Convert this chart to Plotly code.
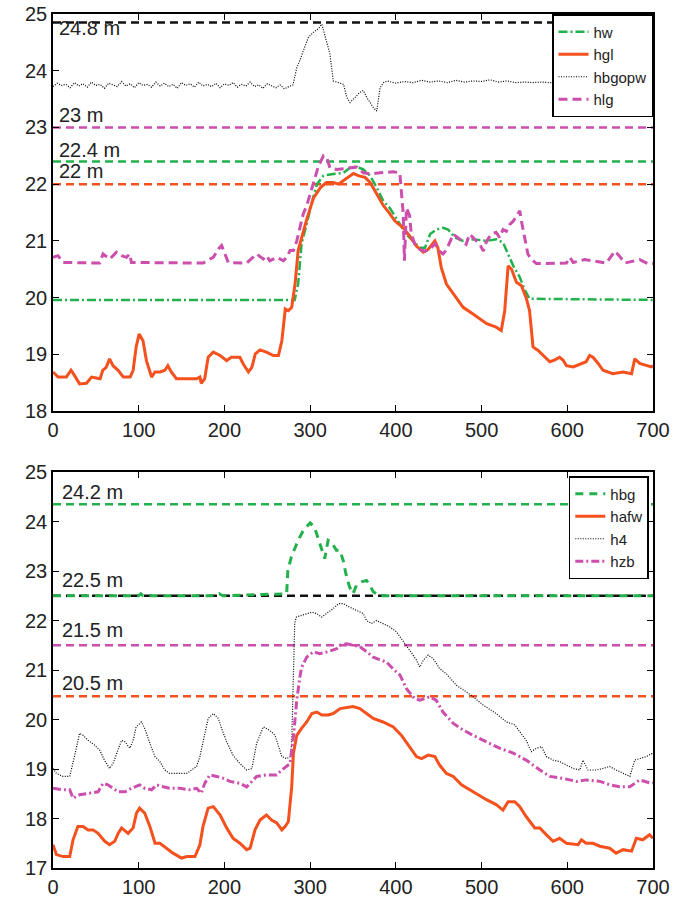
import plotly.graph_objects as go

# ---------------- TOP PANEL DATA ----------------
hgl_x = [0, 6, 15.6, 21, 25, 31, 39, 45, 55, 58, 62, 66, 70, 76, 82, 90, 93.5, 97, 100.5, 105, 109, 115, 119, 125, 130.5, 134, 138, 144, 156, 167.5, 171.4, 173, 177, 181, 187, 195, 202.6, 208, 218, 222, 228, 232, 236, 241.5, 249, 257, 263, 267, 271, 274.6, 278.5, 282.4, 286, 292, 296, 304, 312, 319, 327, 333, 339, 346.6, 350.5, 356, 364, 370, 377.7, 385.5, 392, 399, 408.5, 416, 424, 432, 437.7, 445.5, 449, 453, 459, 469, 478.5, 490, 506, 517, 523, 527, 531, 535, 540.7, 546.5, 552, 556, 560, 566, 573.7, 579.6, 585, 591, 595, 599, 607, 618, 622, 626, 630, 636, 641.7, 653, 665, 675, 678.7, 684.5, 692, 698, 700]
hgl_y = [18.69, 18.6, 18.6, 18.72, 18.63, 18.48, 18.49, 18.6, 18.57, 18.72, 18.77, 18.92, 18.8, 18.72, 18.6, 18.6, 18.72, 19.13, 19.36, 19.24, 18.89, 18.6, 18.69, 18.69, 18.72, 18.8, 18.69, 18.57, 18.57, 18.57, 18.6, 18.49, 18.57, 18.95, 19.04, 18.98, 18.89, 18.95, 18.95, 18.83, 18.69, 18.77, 19.01, 19.08, 19.04, 18.98, 18.98, 19.24, 19.8, 19.77, 19.83, 20.24, 20.83, 21.18, 21.38, 21.76, 21.94, 22.03, 22.03, 22.0, 22.06, 22.15, 22.19, 22.15, 22.12, 22.03, 21.82, 21.62, 21.5, 21.35, 21.23, 21.09, 20.91, 20.8, 20.85, 21.0, 20.88, 20.53, 20.24, 20.04, 19.83, 19.71, 19.54, 19.48, 19.42, 19.77, 20.56, 20.5, 20.27, 20.21, 20.0, 19.77, 19.13, 19.07, 18.95, 18.87, 18.9, 18.95, 18.9, 18.8, 18.78, 18.84, 18.87, 18.98, 18.95, 18.84, 18.72, 18.66, 18.69, 18.66, 18.92, 18.84, 18.81, 18.78, 18.8]

hw_x = [0, 282, 286, 288, 290, 296, 302, 308, 315.5, 327, 339, 346.6, 354, 362, 370, 377.7, 385.5, 393, 404.7, 412, 420, 428, 434, 440, 447, 455, 461, 469, 478.5, 490, 506, 517, 525, 531, 537, 544.6, 550, 556, 700]
hw_y = [19.96, 19.96, 20.24, 20.6, 20.95, 21.3, 21.68, 22.0, 22.15, 22.18, 22.2, 22.29, 22.31, 22.26, 22.15, 21.94, 21.7, 21.58, 21.29, 21.12, 21.0, 20.88, 20.88, 21.12, 21.2, 21.23, 21.2, 21.06, 21.0, 21.03, 21.0, 21.03, 20.97, 20.77, 20.56, 20.36, 20.15, 19.98, 19.96]

hlg_x = [0, 5.8, 11.7, 54.5, 58.4, 62.3, 66.2, 74, 80, 85.7, 89.6, 91.5, 175.3, 179, 187, 193, 196.7, 200.6, 204.5, 226, 230, 237.6, 245.4, 249, 253, 261, 268.8, 272.7, 276.6, 280.5, 284.4, 288, 292, 296, 302, 309.7, 315.5, 319.4, 323, 331, 342.7, 354.4, 362, 370, 381.6, 397, 404.6, 406, 408.5, 410, 411.5, 412.4, 416, 418, 422, 428, 434, 439.6, 445.5, 451, 455, 459, 467, 472.7, 478.5, 482, 486, 490, 494, 498, 502, 506, 511.5, 517, 521, 525, 529, 533, 537, 540.7, 544.6, 546.5, 550, 554, 558, 564, 599, 603, 607, 620, 645.6, 655.5, 661, 667, 684.5, 688, 694, 700]
hlg_y = [20.71, 20.74, 20.62, 20.61, 20.77, 20.72, 20.68, 20.8, 20.74, 20.71, 20.77, 20.62, 20.61, 20.65, 20.71, 20.86, 20.92, 20.77, 20.62, 20.61, 20.67, 20.77, 20.68, 20.74, 20.65, 20.71, 20.65, 20.71, 20.83, 20.83, 21.0, 21.24, 21.48, 21.62, 21.94, 22.32, 22.5, 22.47, 22.29, 22.26, 22.28, 22.3, 22.2, 22.18, 22.2, 22.22, 22.2, 21.9, 21.5, 20.65, 21.4, 21.58, 21.45, 21.12, 20.95, 20.85, 20.82, 20.85, 20.95, 20.82, 20.77, 20.84, 21.12, 21.05, 20.97, 20.94, 21.12, 21.06, 21.0, 20.94, 20.82, 21.0, 21.12, 21.15, 21.06, 21.2, 21.17, 21.29, 21.35, 21.44, 21.53, 21.35, 21.06, 20.77, 20.68, 20.6, 20.61, 20.71, 20.62, 20.67, 20.61, 20.82, 20.73, 20.61, 20.67, 20.64, 20.6, 20.6]

hbgopw_x = [0, 5, 10, 15, 20, 25, 30, 35, 40, 45, 50, 55, 60, 65, 70, 75, 80, 85, 90, 95, 100, 105, 110, 115, 120, 125, 130, 135, 140, 145, 150, 155, 160, 165, 170, 175, 180, 185, 190, 195, 200, 205, 210, 215, 220, 225, 230, 235, 240, 245, 250, 255, 260, 265, 270, 275, 280, 284.5, 288, 292, 298, 304, 309.7, 313.6, 317.5, 323, 327, 333, 339, 342.7, 346.6, 352.5, 358, 362, 366, 373.8, 377.7, 381.6, 385.5, 390, 400, 410, 420, 430, 440, 450, 460, 470, 480, 490, 500, 510, 520, 530, 540, 550, 560, 570, 580, 600, 620, 640, 660, 680, 700]
hbgopw_y = [23.72, 23.78, 23.74, 23.76, 23.70, 23.79, 23.73, 23.77, 23.71, 23.80, 23.74, 23.76, 23.69, 23.78, 23.75, 23.72, 23.81, 23.73, 23.77, 23.70, 23.79, 23.74, 23.76, 23.71, 23.80, 23.73, 23.78, 23.72, 23.76, 23.69, 23.79, 23.74, 23.77, 23.71, 23.80, 23.73, 23.76, 23.72, 23.78, 23.70, 23.77, 23.74, 23.79, 23.71, 23.76, 23.73, 23.80, 23.72, 23.75, 23.69, 23.77, 23.73, 23.70, 23.75, 23.68, 23.72, 23.75, 24.06, 24.18, 24.35, 24.59, 24.68, 24.74, 24.82, 24.59, 24.3, 23.82, 23.79, 23.76, 23.53, 23.44, 23.53, 23.62, 23.65, 23.53, 23.35, 23.29, 23.7, 23.79, 23.82, 23.78, 23.81, 23.79, 23.83, 23.80, 23.82, 23.79, 23.83, 23.80, 23.82, 23.81, 23.84, 23.80, 23.82, 23.79, 23.80, 23.79, 23.80, 23.79, 23.80, 23.79, 23.80, 23.79, 23.80, 23.79]

top_ref_vals = [24.85, 23.0, 22.4, 22.0]
top_ref_labels = ["24.8 m", "23 m", "22.4 m", "22 m"]
top_ref_label_y = [24.75, 23.22, 22.6, 22.23]

# ---------------- BOTTOM PANEL DATA ----------------
hbg_x = [0, 100, 102.5, 105, 190, 194, 198, 272.6, 274, 278, 282, 286, 292, 300, 305, 309, 313, 317, 321, 325, 330.6, 334.7, 338.6, 342.5, 346, 350, 354, 360, 365.8, 369.7, 373.6, 381, 700]
hbg_y = [22.5, 22.5, 22.54, 22.5, 22.5, 22.54, 22.5, 22.54, 23.01, 23.28, 23.45, 23.62, 23.82, 23.97, 23.89, 23.68, 23.48, 23.25, 23.62, 23.58, 23.42, 23.42, 23.21, 22.88, 22.68, 22.54, 22.71, 22.78, 22.81, 22.71, 22.58, 22.5, 22.5]

hafw_x = [0, 4, 11.7, 19.5, 23.4, 29, 35, 41, 46.7, 52.6, 60.4, 66, 72, 76, 80, 87.6, 93.5, 97.4, 101, 107, 113, 119, 124.7, 132.5, 140, 150, 156, 165.6, 171.4, 175, 181, 187, 195, 202.6, 210, 218, 226, 230, 235.7, 241.5, 249, 255, 261, 267, 271, 274.6, 278.5, 280.5, 284.4, 290, 296, 302, 307.7, 313.6, 321, 327, 335, 350, 358, 365.8, 373.6, 385, 397, 406.6, 416, 424, 430, 437.7, 445.5, 451, 459, 467, 476.6, 490, 505.7, 517, 525, 531, 538.7, 544.6, 552, 562, 568, 575.7, 583.4, 591, 599, 612.6, 616.5, 622, 630, 638, 649.5, 657, 665, 675, 680.6, 688, 696, 700]
hafw_y = [17.47, 17.27, 17.23, 17.23, 17.57, 17.84, 17.84, 17.77, 17.77, 17.7, 17.54, 17.47, 17.54, 17.7, 17.81, 17.7, 17.81, 18.11, 18.21, 18.11, 17.84, 17.5, 17.5, 17.4, 17.3, 17.2, 17.23, 17.23, 17.47, 17.84, 18.21, 18.24, 18.07, 17.81, 17.6, 17.5, 17.37, 17.4, 17.77, 17.97, 18.07, 17.97, 17.91, 17.77, 17.84, 17.94, 18.64, 19.32, 19.68, 19.82, 19.95, 20.12, 20.15, 20.09, 20.09, 20.12, 20.22, 20.26, 20.22, 20.12, 20.02, 19.95, 19.85, 19.68, 19.45, 19.25, 19.21, 19.28, 19.25, 19.08, 18.91, 18.85, 18.68, 18.54, 18.38, 18.28, 18.17, 18.34, 18.34, 18.24, 18.04, 17.81, 17.81, 17.67, 17.54, 17.6, 17.5, 17.47, 17.57, 17.5, 17.5, 17.44, 17.4, 17.3, 17.37, 17.34, 17.6, 17.57, 17.67, 17.6]

h4_x = [0, 4, 11.7, 19.5, 25, 31, 35, 41, 48.7, 54.5, 60, 66, 70, 76, 80, 84, 89.6, 93.5, 97, 103, 107, 113, 119, 124.7, 130.5, 136, 148, 156, 161.7, 167.5, 171.4, 177, 181, 187, 193, 196.7, 202.6, 210, 218, 226, 232, 237.6, 245.4, 249, 255, 259, 263, 267, 272.7, 276.6, 278.5, 279.5, 280.5, 282, 284, 290, 296, 302, 307.5, 313.5, 319, 327, 333, 338.6, 346, 354, 362, 365.8, 371.6, 377.5, 385, 393, 400.8, 408.5, 416, 424, 428, 432, 437.7, 443.5, 451, 459, 470.7, 482, 490, 502, 517, 529, 539, 544.6, 552, 558, 564, 570, 575.7, 583.4, 591, 599, 607, 614.5, 618.4, 624, 634, 641.7, 649.5, 657, 665, 673, 678.7, 684.5, 692, 698, 700]
h4_y = [19.01, 18.91, 18.85, 18.85, 19.25, 19.72, 19.68, 19.58, 19.48, 19.38, 19.18, 19.01, 19.11, 19.38, 19.58, 19.55, 19.42, 19.58, 19.85, 19.95, 19.82, 19.52, 19.25, 19.15, 18.98, 18.91, 18.91, 18.91, 18.98, 19.05, 19.25, 19.72, 20.02, 20.12, 20.02, 19.82, 19.55, 19.28, 19.11, 18.98, 19.01, 19.52, 19.85, 19.82, 19.75, 19.68, 19.45, 19.25, 19.21, 19.25, 19.52, 20.3, 21.13, 21.95, 22.07, 22.1, 22.14, 22.17, 22.14, 22.07, 22.14, 22.24, 22.34, 22.34, 22.27, 22.2, 22.14, 22.0, 21.94, 22.0, 21.94, 21.87, 21.77, 21.57, 21.4, 21.2, 21.06, 21.2, 21.3, 21.23, 21.03, 20.92, 20.69, 20.56, 20.46, 20.29, 20.12, 19.95, 19.89, 19.75, 19.58, 19.35, 19.42, 19.45, 19.25, 19.18, 19.15, 19.08, 19.01, 18.98, 19.18, 18.98, 18.98, 19.01, 19.05, 18.98, 18.91, 18.85, 19.18, 19.21, 19.25, 19.31, 19.3]

hzb_x = [0, 11.7, 19.5, 23.4, 31, 43, 52.6, 58.4, 64, 70, 76, 84, 91.5, 101, 107, 115, 120.8, 128.6, 136, 148, 159.7, 167.5, 173, 177, 183, 191, 198.7, 206.5, 218, 226, 232, 237.6, 249, 261, 267, 272.7, 276.6, 280.5, 284.4, 288, 290, 296, 304, 311, 321, 331, 334.7, 342.5, 350, 358, 365.8, 373.6, 381, 389, 397, 404.7, 412.4, 422, 428, 439.6, 447, 455, 467, 478.5, 490, 505.7, 521, 537, 552, 568, 579.6, 595, 610.6, 622, 638, 649.5, 661, 673, 678.7, 684.5, 698, 700]
hzb_y = [18.61, 18.58, 18.58, 18.41, 18.48, 18.51, 18.54, 18.71, 18.68, 18.61, 18.54, 18.54, 18.61, 18.68, 18.61, 18.58, 18.68, 18.64, 18.61, 18.61, 18.58, 18.61, 18.51, 18.71, 18.88, 18.85, 18.81, 18.75, 18.71, 18.64, 18.75, 18.85, 18.88, 18.88, 18.98, 19.05, 19.11, 19.65, 20.39, 20.86, 21.05, 21.26, 21.37, 21.33, 21.37, 21.43, 21.5, 21.53, 21.5, 21.47, 21.37, 21.26, 21.21, 21.16, 21.02, 20.9, 20.62, 20.42, 20.39, 20.46, 20.39, 20.15, 19.92, 19.79, 19.68, 19.55, 19.42, 19.32, 19.18, 18.98, 18.85, 18.81, 18.75, 18.78, 18.75, 18.68, 18.64, 18.64, 18.71, 18.78, 18.71, 18.72]

bot_ref_vals = [24.35, 22.5, 21.5, 20.47]
bot_ref_labels = ["24.2 m", "22.5 m", "21.5 m", "20.5 m"]
bot_ref_label_y = [24.6, 22.82, 21.8, 20.73]

x_range = [0, 700]
x_ticks = [0, 100, 200, 300, 400, 500, 600, 700]

ORANGE = "#F4511E"
GREEN = "#22B14C"
MAGENTA = "#CC4FAE"
BLACK = "#111111"
DOTTED = "#000000"
FONT = "Liberation Sans, Arial, sans-serif"

fig = go.Figure()

ref_colors_top = [BLACK, MAGENTA, GREEN, ORANGE]
ref_colors_bot = [GREEN, BLACK, MAGENTA, ORANGE]

for v, c in zip(top_ref_vals, ref_colors_top):
    fig.add_trace(go.Scatter(x=x_range, y=[v, v], mode="lines", showlegend=False,
                             line=dict(color=c, width=2.5, dash="8px,5px"),
                             xaxis="x", yaxis="y", hoverinfo="skip"))

for v, c in zip(bot_ref_vals, ref_colors_bot):
    fig.add_trace(go.Scatter(x=x_range, y=[v, v], mode="lines", showlegend=False,
                             line=dict(color=c, width=2.5, dash="8px,5px"),
                             xaxis="x2", yaxis="y2", hoverinfo="skip"))

# top panel series
fig.add_trace(go.Scatter(x=hw_x, y=hw_y, name="hw", mode="lines",
                         line=dict(color=GREEN, width=2.5, dash="9px,3px,2px,3px"),
                         xaxis="x", yaxis="y", legend="legend"))
fig.add_trace(go.Scatter(x=hgl_x, y=hgl_y, name="hgl", mode="lines",
                         line=dict(color=ORANGE, width=3),
                         xaxis="x", yaxis="y", legend="legend"))
fig.add_trace(go.Scatter(x=hbgopw_x, y=hbgopw_y, name="hbgopw", mode="lines",
                         line=dict(color=DOTTED, width=1.2, dash="1px,1.5px"),
                         xaxis="x", yaxis="y", legend="legend"))
fig.add_trace(go.Scatter(x=hlg_x, y=hlg_y, name="hlg", mode="lines",
                         line=dict(color=MAGENTA, width=3, dash="9px,5px"),
                         xaxis="x", yaxis="y", legend="legend"))

# bottom panel series
fig.add_trace(go.Scatter(x=hbg_x, y=hbg_y, name="hbg", mode="lines",
                         line=dict(color=GREEN, width=3, dash="8px,6px"),
                         xaxis="x2", yaxis="y2", legend="legend2"))
fig.add_trace(go.Scatter(x=hafw_x, y=hafw_y, name="hafw", mode="lines",
                         line=dict(color=ORANGE, width=3),
                         xaxis="x2", yaxis="y2", legend="legend2"))
fig.add_trace(go.Scatter(x=h4_x, y=h4_y, name="h4", mode="lines",
                         line=dict(color=DOTTED, width=1.2, dash="1px,1.5px"),
                         xaxis="x2", yaxis="y2", legend="legend2"))
fig.add_trace(go.Scatter(x=hzb_x, y=hzb_y, name="hzb", mode="lines",
                         line=dict(color=MAGENTA, width=3, dash="8px,3px,2px,3px"),
                         xaxis="x2", yaxis="y2", legend="legend2"))

annotations = []
for lab, yy in zip(top_ref_labels, top_ref_label_y):
    annotations.append(dict(x=5, y=yy, xref="x", yref="y", text=lab, showarrow=False,
                            xanchor="left", yanchor="middle",
                            font=dict(family=FONT, size=20, color="#222")))
for lab, yy in zip(bot_ref_labels, bot_ref_label_y):
    annotations.append(dict(x=8, y=yy, xref="x2", yref="y2", text=lab, showarrow=False,
                            xanchor="left", yanchor="middle",
                            font=dict(family=FONT, size=20, color="#222")))

axis_common = dict(showline=True, linecolor="black", linewidth=1.5, mirror="ticks",
                   ticks="inside", ticklen=6, tickcolor="black", tickwidth=1,
                   showgrid=False, zeroline=False, automargin=False,
                   tickfont=dict(family=FONT, size=20, color="#222"))

legend_common = dict(bgcolor="white", bordercolor="black", borderwidth=1.5,
                     font=dict(family=FONT, size=15, color="#222"),
                     xanchor="right", yanchor="top", tracegroupgap=0)

fig.update_layout(
    width=685, height=900,
    margin=dict(l=53, r=32, t=14, b=32, autoexpand=False),
    paper_bgcolor="white", plot_bgcolor="white",
    xaxis=dict(domain=[0, 1], anchor="y", range=x_range, tickvals=x_ticks, **axis_common),
    yaxis=dict(domain=[0.535, 1], anchor="x", range=[18, 25], dtick=1, **axis_common),
    xaxis2=dict(domain=[0, 1], anchor="y2", range=x_range, tickvals=x_ticks, **axis_common),
    yaxis2=dict(domain=[0, 0.4637], anchor="x2", range=[17, 25], dtick=1, **axis_common),
    legend=dict(x=1.0, y=1.0, **legend_common),
    legend2=dict(x=0.993, y=0.459, **legend_common),
    annotations=annotations,
    showlegend=True,
)

# remove the default page margin so the figure sits at the window's top-left corner
fig.write_html("out.html",
               config={"displayModeBar": False},
               post_script="document.body.style.margin='0';document.body.style.overflow='hidden';")
